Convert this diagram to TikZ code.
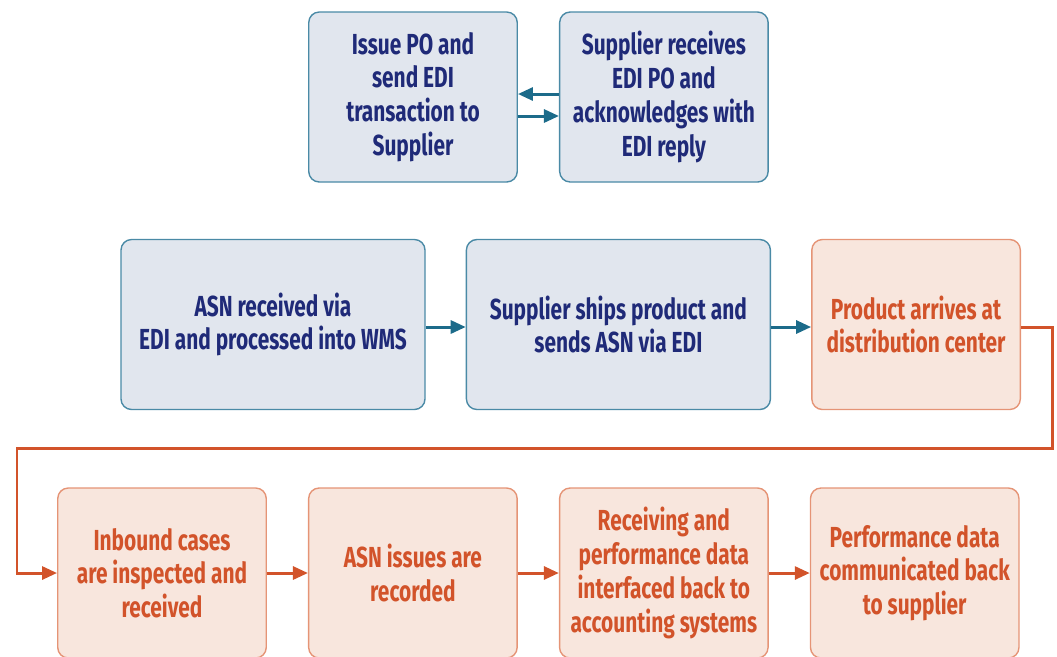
\documentclass[tikz,border=0pt]{standalone}
\usepackage{fontspec}
\setmainfont{Fira Sans}[FakeStretch=0.72]
\usepackage{xcolor}
\usepackage{tikz}
\usetikzlibrary{positioning, arrows.meta, calc}
\definecolor{sysfill}{HTML}{E1E6EE}
\definecolor{sysdraw}{HTML}{4A8AA6}
\definecolor{systext}{HTML}{1F2A78}
\definecolor{sysarrow}{HTML}{1C6B8A}
\definecolor{dcfill}{HTML}{F8E6DD}
\definecolor{dcdraw}{HTML}{E59476}
\definecolor{dctext}{HTML}{D2532A}
\tikzset{
  sysbox/.style = {rectangle, rounded corners=6pt, draw=sysdraw, line width=0.8pt,
                   fill=sysfill, minimum width=4.17cm, minimum height=3.4cm,
                   align=center, text=systext, font=\fontsize{16.5}{19.2}\selectfont\bfseries},
  widebox/.style = {sysbox, minimum width=6.08cm},
  dcbox/.style  = {rectangle, rounded corners=6pt, draw=dcdraw, line width=0.8pt,
                   fill=dcfill, minimum width=4.17cm, minimum height=3.4cm,
                   align=center, text=dctext, font=\fontsize{16.5}{19.2}\selectfont\bfseries},
  arr/.style    = {-{Triangle[length=3mm,width=2.6mm]}, line width=1.7pt, draw=sysarrow},
  oarr/.style   = {-{Triangle[length=3mm,width=2.6mm]}, line width=1.7pt, draw=dctext},
}
\begin{document}
\begin{tikzpicture}
  \useasboundingbox (0,0) rectangle (21.14,-13.12);

  % Ordering
  \node[sysbox] (po) at (8.26,-1.94) {Issue PO and\\send EDI\\transaction to\\Supplier};
  \node[sysbox, right=0.82cm of po] (ack) {Supplier receives\\EDI PO and\\acknowledges with\\EDI reply};
  \draw[arr] ([yshift=0.06cm]ack.west) -- ([yshift=0.06cm]po.east);
  \draw[arr] ([yshift=-0.38cm]po.east) -- ([yshift=-0.38cm]ack.west);

  % Shipping
  \node[widebox] (asn) at (5.46,-6.49) {ASN received via\\EDI and processed into WMS};
  \node[widebox, right=0.8cm of asn] (ship) {Supplier ships product and\\sends ASN via EDI};
  \node[dcbox, right=0.8cm of ship] (arrive) {Product arrives at\\distribution center};
  \draw[arr] ([yshift=-0.05cm]asn.east) -- ([yshift=-0.05cm]ship.west);
  \draw[arr] ([yshift=-0.05cm]ship.east) -- ([yshift=-0.05cm]arrive.west);

  % Receiving
  \node[dcbox] (inbound) at (3.24,-11.46) {Inbound cases\\are inspected and\\received};
  \node[dcbox, right=0.82cm of inbound] (issues) {ASN issues are\\recorded};
  \node[dcbox, right=0.82cm of issues] (interface) {Receiving and\\performance data\\interfaced back to\\accounting systems};
  \node[dcbox, right=0.82cm of interface] (report) {Performance data\\communicated back\\to supplier};
  \coordinate (turn) at (0.34,-8.96);
  \draw[oarr] ([yshift=-0.05cm]arrive.east) -- ++(0.62,0) |- (turn) |- (inbound.west);
  \draw[oarr] (inbound) -- (issues);
  \draw[oarr] (issues) -- (interface);
  \draw[oarr] (interface) -- (report);

\end{tikzpicture}
\end{document}
